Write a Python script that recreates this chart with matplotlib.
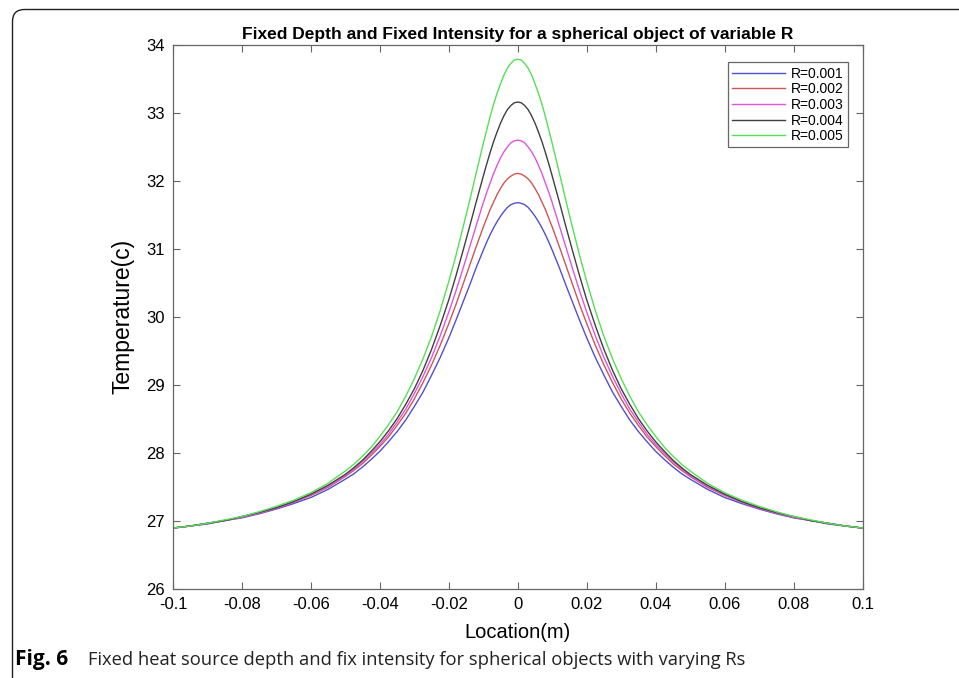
import matplotlib.pyplot as plt
from matplotlib.patches import FancyBboxPatch
from matplotlib.ticker import FuncFormatter

plt.rcParams['font.family'] = ['Liberation Sans', 'DejaVu Sans']

# distance from the point above the sphere centre (m); the profiles are symmetric
offset = [0.0, 0.001, 0.002, 0.003, 0.004, 0.005, 0.006, 0.007, 0.008, 0.009,
          0.010, 0.012, 0.014, 0.016, 0.018, 0.020, 0.0225, 0.025, 0.0275, 0.03,
          0.0325, 0.035, 0.0375, 0.04, 0.0425, 0.045, 0.0475, 0.05, 0.055, 0.06,
          0.065, 0.07, 0.075, 0.08, 0.085, 0.09, 0.095, 0.1]

# surface temperature (c) at each offset, one list per sphere radius
temp_r001 = [31.68, 31.67, 31.65, 31.61, 31.55, 31.48, 31.40, 31.31, 31.21, 31.10,
             30.98, 30.73, 30.46, 30.20, 29.94, 29.69, 29.40, 29.14, 28.89, 28.68,
             28.48, 28.31, 28.16, 28.02, 27.90, 27.79, 27.69, 27.61, 27.46, 27.34,
             27.25, 27.17, 27.10, 27.04, 27.00, 26.95, 26.92, 26.89]
temp_r002 = [32.11, 32.10, 32.07, 32.03, 31.97, 31.89, 31.80, 31.69, 31.58, 31.45,
             31.32, 31.04, 30.75, 30.46, 30.17, 29.90, 29.58, 29.29, 29.03, 28.79,
             28.58, 28.40, 28.23, 28.09, 27.96, 27.84, 27.74, 27.65, 27.49, 27.37,
             27.27, 27.18, 27.11, 27.05, 27.00, 26.96, 26.92, 26.89]
temp_r003 = [32.60, 32.59, 32.56, 32.50, 32.43, 32.34, 32.23, 32.11, 31.97, 31.83,
             31.68, 31.35, 31.02, 30.69, 30.37, 30.07, 29.72, 29.40, 29.12, 28.87,
             28.64, 28.45, 28.27, 28.12, 27.99, 27.87, 27.76, 27.66, 27.50, 27.38,
             27.27, 27.18, 27.11, 27.05, 27.00, 26.96, 26.92, 26.89]
temp_r004 = [33.16, 33.15, 33.11, 33.05, 32.96, 32.85, 32.72, 32.58, 32.42, 32.25,
             32.07, 31.70, 31.32, 30.95, 30.59, 30.25, 29.87, 29.52, 29.21, 28.94,
             28.71, 28.50, 28.32, 28.16, 28.02, 27.89, 27.78, 27.68, 27.52, 27.39,
             27.28, 27.19, 27.12, 27.06, 27.00, 26.96, 26.92, 26.89]
temp_r005 = [33.79, 33.78, 33.73, 33.66, 33.56, 33.43, 33.29, 33.13, 32.95, 32.75,
             32.55, 32.13, 31.70, 31.29, 30.89, 30.52, 30.09, 29.71, 29.38, 29.09,
             28.83, 28.60, 28.41, 28.24, 28.08, 27.95, 27.83, 27.73, 27.55, 27.41,
             27.30, 27.21, 27.13, 27.06, 27.01, 26.96, 26.92, 26.89]

series = [temp_r001, temp_r002, temp_r003, temp_r004, temp_r005]
labels = ['R=0.001', 'R=0.002', 'R=0.003', 'R=0.004', 'R=0.005']
colors = ['#5050d0', '#d05555', '#e055e0', '#404040', '#55e055']

x_ticks = [-0.1, -0.08, -0.06, -0.04, -0.02, 0, 0.02, 0.04, 0.06, 0.08, 0.1]
y_ticks = [26, 27, 28, 29, 30, 31, 32, 33, 34]

# full location axis from -0.1 to 0.1
location = [-v for v in offset[:0:-1]] + offset

fig = plt.figure(figsize=(9.59, 6.78), dpi=100)

# page frame with the rounded corner
bg = fig.add_axes([0, 0, 1, 1], zorder=0)
bg.set_xlim(0, 959)
bg.set_ylim(678, 0)
bg.axis('off')
bg.add_patch(FancyBboxPatch((12.5, 9.5), 1200, 900,
                            boxstyle='round,pad=0,rounding_size=12',
                            fill=False, edgecolor='#222222', linewidth=1.0))

ax = fig.add_axes([0.1804, 0.1320, 0.7190, 0.8016], zorder=1)
for vals, lab, col in zip(series, labels, colors):
    profile = vals[:0:-1] + vals
    ax.plot(location, profile, color=col, linewidth=1.0, label=lab)

ax.set_xlim(-0.1, 0.1)
ax.set_ylim(26, 34)
ax.set_xticks(x_ticks)
ax.set_yticks(y_ticks)
ax.xaxis.set_major_formatter(FuncFormatter(lambda v, p: f"{v:g}" if abs(v) > 1e-9 else "0"))
ax.tick_params(direction='in', top=True, right=True, length=5, width=0.8,
               color='#666666', labelsize=12, pad=6)
for sp in ax.spines.values():
    sp.set_color('#666666')
    sp.set_linewidth(0.9)

ax.set_title('Fixed Depth and Fixed Intensity for a spherical object of variable R',
             fontsize=12.5, fontweight='bold', pad=4)
ax.set_xlabel('Location(m)', fontsize=14.5, labelpad=8)
ax.set_ylabel('Temperature(c)', fontsize=16.5, labelpad=8)

leg = ax.legend(loc='upper right', bbox_to_anchor=(0.9785, 0.968), fontsize=10,
                frameon=True, fancybox=False, framealpha=1, edgecolor='#666666',
                handlelength=3.8, handletextpad=0.4, labelspacing=0.12,
                borderpad=0.3, borderaxespad=0)
leg.get_frame().set_linewidth(0.9)

# figure caption
fig.text(15 / 959, 1 - 665 / 678, 'Fig. 6', fontsize=15, fontweight='bold',
         family='Open Sans', va='baseline')
fig.text(88 / 959, 1 - 665 / 678,
         'Fixed heat source depth and fix intensity for spherical objects with varying Rs',
         fontsize=13.2, family='Open Sans', va='baseline', color='#222222')

fig.savefig('out.png', dpi=100)
